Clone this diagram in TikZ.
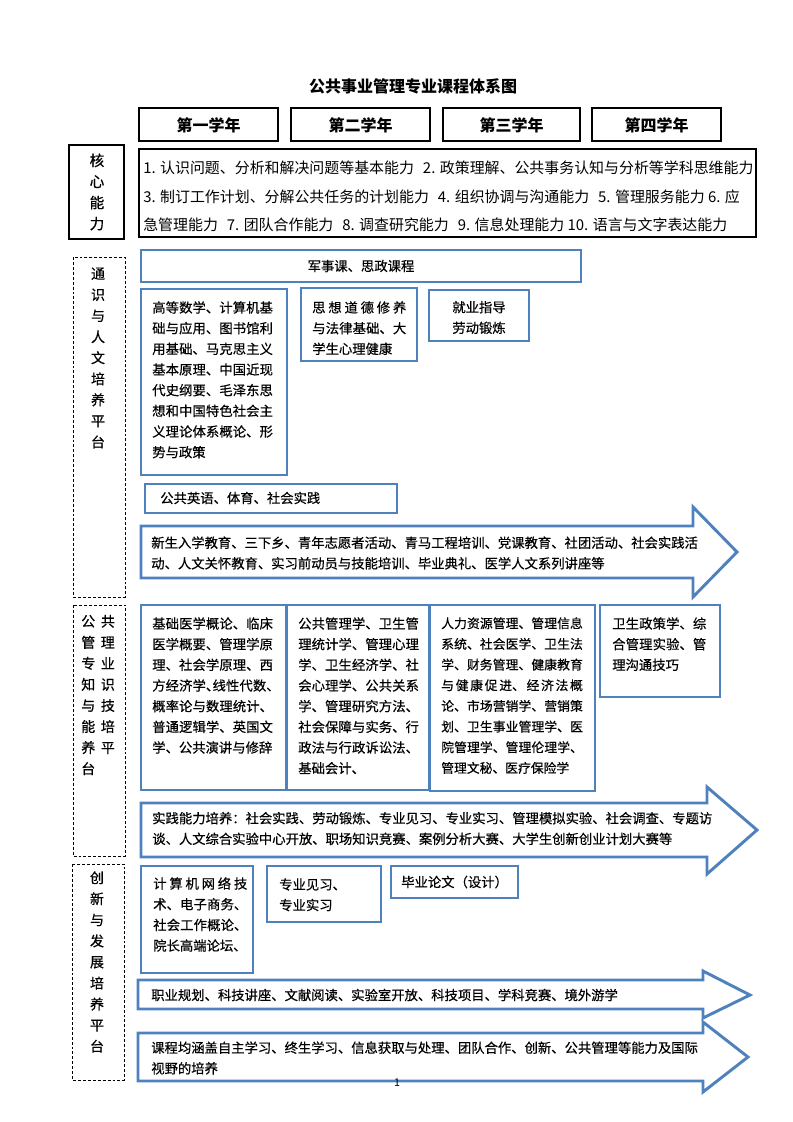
\documentclass[tikz,border=0pt]{standalone}
\usepackage{fontspec}
\setmainfont{Noto Sans CJK SC}
\newfontfamily\kcfont{Noto Sans CJK SC}[FakeBold=0.5]
\usepackage{tikz}
\XeTeXlinebreaklocale "zh"
\XeTeXlinebreakskip=0pt plus 3pt

\definecolor{kclan}{HTML}{4F81BD}
\tikzset{
  lankuang/.style={draw=kclan, line width=2.2pt},
  heikuang/.style={draw=black, line width=2.2pt},
  xukuang/.style={draw=black, line width=0.7pt, dash pattern=on 2.2pt off 1.5pt},
  jiantou/.style={draw=kclan, line width=2.2pt, miter limit=20},
  nianji/.style={font=\fontsize{12}{14}\selectfont\bfseries},
  kewen/.style={font=\kcfont\fontsize{10}{15.5}\selectfont, inner sep=0pt, anchor=north west, align=justify},
  hangwen/.style={font=\kcfont\fontsize{10}{15.5}\selectfont, inner sep=0pt, anchor=west, align=left},
  shuwen/.style={font=\kcfont\fontsize{10.5}{15.8}\selectfont, inner sep=0pt, align=center},
}

\begin{document}
\begin{tikzpicture}[x=0.75pt,y=-0.75pt]
\useasboundingbox (0,0) rectangle (793,1122);

% title and years
\node[font=\fontsize{12}{14}\selectfont\bfseries] (biaoti) at (413,86) {公共事业管理专业课程体系图};
\draw[heikuang] (139,108) rectangle (278,141);
\draw[heikuang] (291,108) rectangle (430,141);
\draw[heikuang] (443,108) rectangle (580,141);
\draw[heikuang] (592,108) rectangle (721,141);
\node[nianji] (nian1) at (208.5,125) {第一学年};
\node[nianji] (nian2) at (360.5,125) {第二学年};
\node[nianji] (nian3) at (511.5,125) {第三学年};
\node[nianji] (nian4) at (656.5,125) {第四学年};

% core abilities
\draw[heikuang] (69,145) rectangle (124,239);
\node[font=\kcfont\fontsize{11}{15.8}\selectfont, align=center] (hexin) at (97,192) {核\\心\\能\\力};
\draw[heikuang] (139,149) rectangle (756,237);
\node[font=\fontsize{11.2}{21.2}\selectfont, anchor=west, align=left, inner sep=0pt] (nengli) at (143,196.5)
  {1. 认识问题、分析和解决问题等基本能力\hspace{0.6em}2. 政策理解、公共事务认知与分析等学科思维能力\\
   3. 制订工作计划、分解公共任务的计划能力\hspace{0.6em}4. 组织协调与沟通能力\hspace{0.6em}5. 管理服务能力 6. 应\\
   急管理能力\hspace{0.6em}7. 团队合作能力\hspace{0.6em}8. 调查研究能力\hspace{0.6em}9. 信息处理能力 10. 语言与文字表达能力};

% platform 1
\draw[xukuang] (73,257) rectangle (125,597);
\node[shuwen] (tongshi) at (98,358) {通\\识\\与\\人\\文\\培\\养\\平\\台};
\draw[lankuang] (141,250) rectangle (581,282);
\node[font=\kcfont\fontsize{10}{12}\selectfont] (junshi) at (361,266) {军事课、思政课程};
\draw[lankuang] (141,289) rectangle (287,475);
\node[kewen, text width=90.5pt] (gaoshu) at (152,301) {高等数学、计算机基\linebreak
础与应用、图书馆利\linebreak
用基础、马克思主义\linebreak
基本原理、中国近现\linebreak
代史纲要、毛泽东思\linebreak
想和中国特色社会主\linebreak
义理论体系概论、形\linebreak
势与政策};
\draw[lankuang] (301,288) rectangle (417,361);
\node[kewen, text width=70.5pt] (sixiang) at (312,301) {思想道德修养\linebreak
与法律基础、大\linebreak
学生心理健康};
\draw[lankuang] (429,290) rectangle (529,341);
\node[font=\kcfont\fontsize{10}{15.5}\selectfont, align=center] (jiuye) at (479,317.5) {就业指导\\劳动锻炼};
\draw[lankuang] (145,484) rectangle (397,513);
\node[hangwen] (yingyu) at (160,498) {公共英语、体育、社会实践};
\draw[jiantou] (141,526) -- (693,526) -- (693,507) -- (737,552) -- (693,597) -- (693,578) -- (141,578) -- cycle;
\node[hangwen] (xinsheng) at (151,553) {新生入学教育、三下乡、青年志愿者活动、青马工程培训、党课教育、社团活动、社会实践活\\
动、人文关怀教育、实习前动员与技能培训、毕业典礼、医学人文系列讲座等};

% platform 2
\draw[xukuang] (73,605) rectangle (125,856);
\node[shuwen, align=left, anchor=west] (zhuanye) at (81,695) {公\hspace{.4em}共\\管\hspace{.4em}理\\专\hspace{.4em}业\\知\hspace{.4em}识\\与\hspace{.4em}技\\能\hspace{.4em}培\\养\hspace{.4em}平\\台};
\draw[lankuang] (141,605) rectangle (286,790);
\draw[lankuang] (287,605) rectangle (429,790);
\draw[lankuang] (430,605) rectangle (595,791);
\draw[lankuang] (600,605) rectangle (720,697);
\node[kewen, text width=90.5pt] (jichu) at (152,617) {基础医学概论、临床\linebreak
医学概要、管理学原\linebreak
理、社会学原理、西\linebreak
方经济学、\kern-.5em线性代数、\kern-.5em\linebreak
概率论与数理统计、\linebreak
普通逻辑学、英国文\linebreak
学、公共演讲与修辞};
\node[kewen, text width=90.5pt] (gongguan) at (298,617) {公共管理学、卫生管\linebreak
理统计学、管理心理\linebreak
学、卫生经济学、社\linebreak
会心理学、公共关系\linebreak
学、管理研究方法、\linebreak
社会保障与实务、行\linebreak
政法与行政诉讼法、\linebreak
基础会计、};
\node[kewen, text width=106.2pt, font=\kcfont\fontsize{9.6}{15.5}\selectfont] (renli) at (441,617) {人力资源管理、管理信息\linebreak
系统、社会医学、卫生法\linebreak
学、财务管理、健康教育\linebreak
与健康促进、经济法概\linebreak
论、市场营销学、营销策\linebreak
划、卫生事业管理学、医\linebreak
院管理学、管理伦理学、\linebreak
管理文秘、医疗保险学};
\node[kewen, text width=70.5pt] (weisheng) at (612,617) {卫生政策学、综\linebreak
合管理实验、管\linebreak
理沟通技巧};
\draw[jiantou] (141,803) -- (707,803) -- (707,787) -- (757,830) -- (707,874) -- (707,857) -- (141,857) -- cycle;
\node[hangwen] (shijian) at (152,828.5) {实践能力培养：社会实践、劳动锻炼、专业见习、专业实习、管理模拟实验、社会调查、专题访\\
谈、人文综合实验中心开放、职场知识竞赛、案例分析大赛、大学生创新创业计划大赛等};

% platform 3
\draw[xukuang] (72,864) rectangle (124,1080);
\node[shuwen] (chuangxin) at (97,962) {创\\新\\与\\发\\展\\培\\养\\平\\台};
\draw[lankuang] (141,866) rectangle (253,973);
\draw[lankuang] (267,866) rectangle (381,922);
\draw[lankuang] (391,866) rectangle (518,898);
\node[kewen, text width=70.5pt] (jisuanji) at (153,877) {计算机网络技\linebreak
术、电子商务、\linebreak
社会工作概论、\linebreak
院长高端论坛、};
\node[kewen, align=left] (jianxi) at (279,878) {专业见习、\\专业实习};
\node[hangwen] (lunwen) at (401,882) {毕业论文（设计）};
\draw[jiantou] (138,980) -- (703,980) -- (703,971) -- (750,995) -- (703,1018) -- (703,1009) -- (138,1009) -- cycle;
\node[hangwen] (zhiye) at (151,995) {职业规划、科技讲座、文献阅读、实验室开放、科技项目、学科竞赛、境外游学};
\draw[jiantou] (138,1033) -- (703,1033) -- (703,1022) -- (748,1057) -- (703,1092) -- (703,1081) -- (138,1081) -- cycle;
\node[hangwen] (kecheng) at (151,1058) {课程均涵盖自主学习、终生学习、信息获取与处理、团队合作、创新、公共管理等能力及国际\\
视野的培养};
\node[font=\fontsize{8}{9}\selectfont] (yema) at (397,1083) {1};
\end{tikzpicture}
\end{document}
